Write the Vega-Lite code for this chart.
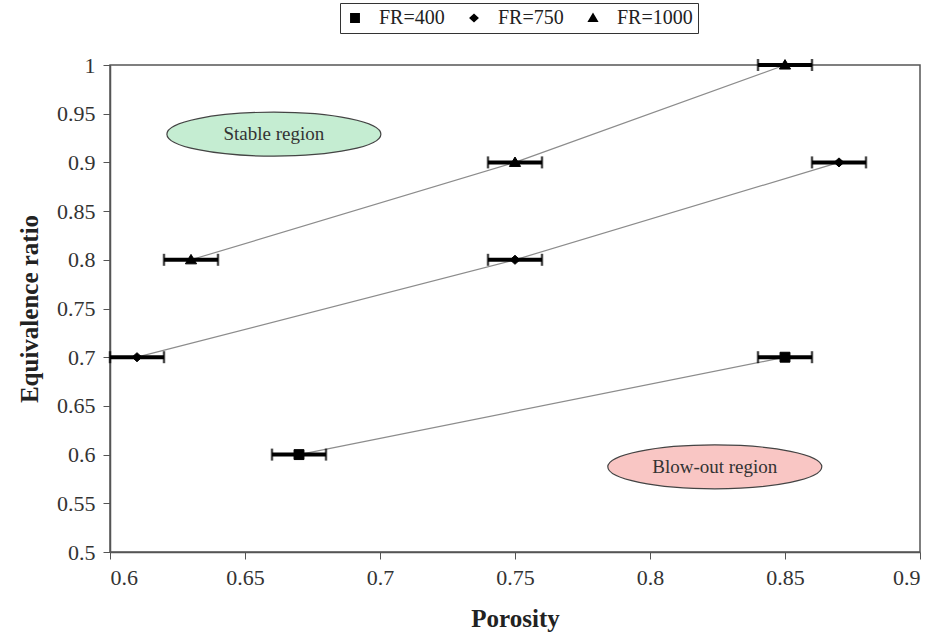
{
  "$schema": "https://vega.github.io/schema/vega-lite/v6.json",
  "width": 810,
  "height": 487,
  "autosize": {"type": "none"},
  "padding": {"left": 110, "top": 65, "right": 19, "bottom": 90},
  "background": "white",
  "config": {
    "view": {"stroke": "#555", "strokeWidth": 1.5},
    "font": "Liberation Serif",
    "axis": {"grid": false, "labelFont": "Liberation Serif", "labelFontSize": 22, "labelColor": "#333", "titleFont": "Liberation Serif", "titleFontSize": 25, "titleFontWeight": "bold", "titleColor": "#222", "domainColor": "#555", "tickColor": "#555", "tickSize": 7, "domainWidth": 1.5, "format": ".2~f"}
  },
  "datasets": {
    "pts": [
      {"series": "FR=400", "porosity": 0.67, "phi": 0.6, "lo": 0.66, "hi": 0.68},
      {"series": "FR=400", "porosity": 0.85, "phi": 0.7, "lo": 0.84, "hi": 0.86},
      {"series": "FR=750", "porosity": 0.61, "phi": 0.7, "lo": 0.6, "hi": 0.62},
      {"series": "FR=750", "porosity": 0.75, "phi": 0.8, "lo": 0.74, "hi": 0.76},
      {"series": "FR=750", "porosity": 0.87, "phi": 0.9, "lo": 0.86, "hi": 0.88},
      {"series": "FR=1000", "porosity": 0.63, "phi": 0.8, "lo": 0.62, "hi": 0.64},
      {"series": "FR=1000", "porosity": 0.75, "phi": 0.9, "lo": 0.74, "hi": 0.76},
      {"series": "FR=1000", "porosity": 0.85, "phi": 1.0, "lo": 0.84, "hi": 0.86}
    ],
    "regions": [
      {"label": "Stable region", "porosity": 0.6607, "phi": 0.929, "kind": "stable"},
      {"label": "Blow-out region", "porosity": 0.824, "phi": 0.5874, "kind": "blow"}
    ]
  },
  "layer": [
    {
      "data": {"name": "regions"},
      "mark": {"type": "point", "filled": true, "shape": "M-1,0 C-1,-0.1135 -0.5523,-0.2056 0,-0.2056 C0.5523,-0.2056 1,-0.1135 1,0 C1,0.1135 0.5523,0.2056 0,0.2056 C-0.5523,0.2056 -1,0.1135 -1,0 Z", "size": 45796, "stroke": "#444", "strokeWidth": 1.2, "opacity": 1, "fillOpacity": 1},
      "encoding": {
        "x": {"field": "porosity", "type": "quantitative"},
        "y": {"field": "phi", "type": "quantitative"},
        "fill": {"field": "kind", "type": "nominal", "scale": {"domain": ["stable", "blow"], "range": ["#c5edd2", "#f9c6c4"]}, "legend": null}
      }
    },
    {
      "data": {"name": "regions"},
      "mark": {"type": "text", "font": "Liberation Serif", "fontSize": 19, "color": "#333"},
      "encoding": {
        "x": {"field": "porosity", "type": "quantitative"},
        "y": {"field": "phi", "type": "quantitative"},
        "text": {"field": "label"}
      }
    },
    {
      "data": {"name": "pts"},
      "mark": {"type": "line", "color": "#8c8c8c", "strokeWidth": 1.2},
      "encoding": {
        "x": {"field": "porosity", "type": "quantitative", "scale": {"domain": [0.6, 0.9], "nice": false, "zero": false}, "axis": {"values": [0.6, 0.65, 0.7, 0.75, 0.8, 0.85, 0.9], "title": "Porosity", "titlePadding": 18, "labelPadding": 8, "labelFont": "Liberation Serif"}},
        "y": {"field": "phi", "type": "quantitative", "scale": {"domain": [0.5, 1.0], "nice": false, "zero": false}, "axis": {"values": [0.5, 0.55, 0.6, 0.65, 0.7, 0.75, 0.8, 0.85, 0.9, 0.95, 1.0], "title": "Equivalence ratio", "titlePadding": 14, "labelPadding": 8, "labelFont": "Liberation Serif"}},
        "detail": {"field": "series"}
      }
    },
    {
      "data": {"name": "pts"},
      "mark": {"type": "rule", "color": "black", "strokeWidth": 4},
      "encoding": {
        "x": {"field": "lo", "type": "quantitative"},
        "x2": {"field": "hi"},
        "y": {"field": "phi", "type": "quantitative"}
      }
    },
    {
      "data": {"name": "pts"},
      "mark": {"type": "tick", "orient": "vertical", "color": "black", "size": 12, "thickness": 2.5},
      "encoding": {
        "x": {"field": "lo", "type": "quantitative"},
        "y": {"field": "phi", "type": "quantitative"}
      }
    },
    {
      "data": {"name": "pts"},
      "mark": {"type": "tick", "orient": "vertical", "color": "black", "size": 12, "thickness": 2.5},
      "encoding": {
        "x": {"field": "hi", "type": "quantitative"},
        "y": {"field": "phi", "type": "quantitative"}
      }
    },
    {
      "data": {"name": "pts"},
      "mark": {"type": "point", "filled": true, "fill": "black", "stroke": "black", "strokeWidth": 1, "opacity": 1, "size": 324},
      "encoding": {
        "x": {"field": "porosity", "type": "quantitative"},
        "y": {"field": "phi", "type": "quantitative"},
        "shape": {"field": "series", "type": "nominal", "scale": {"domain": ["FR=400", "FR=750", "FR=1000"], "range": ["M-2,0L2,0M-0.55,-0.55L0.55,-0.55L0.55,0.55L-0.55,0.55Z", "M-2,0L2,0M0,-0.5L0.55,0L0,0.5L-0.55,0Z", "M-2,0L2,0M0,-0.6L0.62,0.45L-0.62,0.45Z"]},
          "legend": {
            "orient": "none", "legendX": 230, "legendY": -62, "direction": "horizontal", "title": null,
            "labelFont": "Liberation Serif", "labelFontSize": 20, "labelColor": "#222",
            "strokeColor": "#333", "padding": 5, "symbolSize": 324, "columnPadding": 8, "labelOffset": 14,
            "symbolFillColor": "black", "symbolStrokeColor": "black", "symbolStrokeWidth": 1.2, "symbolOpacity": 1,
            "encode": {"symbols": {"stroke": {"value": "black"}, "strokeWidth": {"value": 1.2}, "fill": {"value": "black"}, "opacity": {"value": 1}}}
          }
        }
      }
    }
  ]
}
